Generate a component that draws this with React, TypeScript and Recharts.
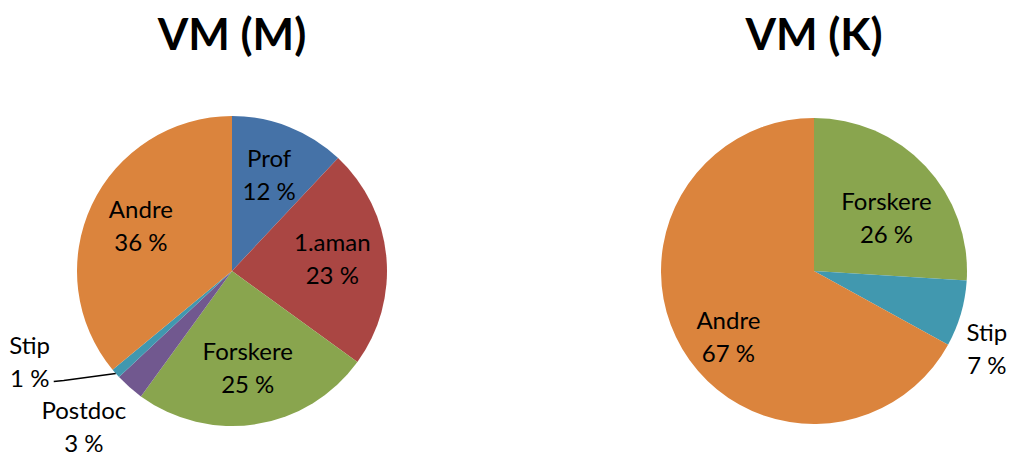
import React from 'react';
import { PieChart, Pie, Cell } from 'recharts';

const mNames = ['Prof', '1.aman', 'Forskere', 'Postdoc', 'Stip', 'Andre'];
const mValues = [12, 23, 25, 3, 1, 36];
const mColors = ['#4572A7', '#AA4643', '#89A54E', '#71588F', '#4198AF', '#DB843D'];

const kNames = ['Forskere', 'Stip', 'Andre'];
const kValues = [26, 7, 67];
const kColors = ['#89A54E', '#4198AF', '#DB843D'];

const mData = mNames.map((name, i) => ({ name, value: mValues[i] }));
const kData = kNames.map((name, i) => ({ name, value: kValues[i] }));

const W = 1012;
const H = 461;
const FONT = 'Lato, "Open Sans", sans-serif';
const RAD = Math.PI / 180;
const FS = 24;
const LH = 33;

// inside labels sit a bit lower on the second pie
const makeLabel = (insideShift: number) => (props: any) => {
    const { cx, cy, midAngle, outerRadius, name, value } = props;
    const dx = Math.cos(-midAngle * RAD);
    const dy = Math.sin(-midAngle * RAD);
    const pct = `${value} %`;

    if (value >= 10) {
        const r = outerRadius * 0.65;
        const x = cx + r * dx;
        const y = cy + r * dy + insideShift;
        return (
            <text x={x} y={y} textAnchor="middle" fontFamily={FONT} fontSize={FS} fill="#000">
                <tspan x={x} dy={-LH / 2 + 6}>{name}</tspan>
                <tspan x={x} dy={LH}>{pct}</tspan>
            </text>
        );
    }

    if (value < 2) {
        // tiny slice: leader line out to the left
        const ex = cx + outerRadius * dx;
        const ey = cy + outerRadius * dy;
        const lx = ex - 62;
        const ly = ey + 8;
        const tx = lx - 24;
        return (
            <g>
                <polyline points={`${ex},${ey} ${lx + 10},${ly - 1} ${lx},${ly}`} fill="none" stroke="#000" strokeWidth={1.5} />
                <text x={tx} y={ly} textAnchor="middle" fontFamily={FONT} fontSize={FS} fill="#000">
                    <tspan x={tx} dy={-LH + 5}>{name}</tspan>
                    <tspan x={tx} dy={LH}>{pct}</tspan>
                </text>
            </g>
        );
    }

    // small slice: label just outside the rim
    const w = Math.max(name.length, pct.length) * FS * 0.48;
    const h = 72;
    const ax = cx + (outerRadius + 8) * dx;
    const ay = cy + (outerRadius + 8) * dy;
    const x = Math.min(ax + Math.sign(dx) * w / 2, W - w / 2 - 2);
    const y = ay + Math.sign(dy) * h / 2;
    return (
        <text x={x} y={y} textAnchor="middle" fontFamily={FONT} fontSize={FS} fill="#000">
            <tspan x={x} dy={-LH / 2 + 6}>{name}</tspan>
            <tspan x={x} dy={LH}>{pct}</tspan>
        </text>
    );
};

const titleStyle: React.CSSProperties = {
    position: 'absolute',
    top: 7,
    width: 300,
    textAlign: 'center',
    fontFamily: FONT,
    fontWeight: 'bold',
    fontSize: 44,
    color: '#000',
};

const App: React.FC = () => {
    return (
        <div style={{ position: 'fixed', left: 0, top: 0, width: W, height: H, background: '#fff' }}>
            <div style={{ ...titleStyle, left: 232 - 150 }}>VM (M)</div>
            <div style={{ ...titleStyle, left: 814 - 150 }}>VM (K)</div>
            <PieChart
                width={W}
                height={H}
                margin={{ top: 0, right: 0, bottom: 0, left: 0 }}
                style={{ position: 'absolute', left: 0, top: 0 }}
            >
                <Pie
                    data={mData}
                    dataKey="value"
                    nameKey="name"
                    cx={232}
                    cy={271}
                    outerRadius={155}
                    startAngle={90}
                    endAngle={-270}
                    stroke="none"
                    label={makeLabel(0)}
                    labelLine={false}
                    isAnimationActive={false}
                >
                    {mData.map((d, i) => (
                        <Cell key={d.name} fill={mColors[i]} />
                    ))}
                </Pie>
                <Pie
                    data={kData}
                    dataKey="value"
                    nameKey="name"
                    cx={814}
                    cy={271}
                    outerRadius={153}
                    startAngle={90}
                    endAngle={-270}
                    stroke="none"
                    label={makeLabel(18)}
                    labelLine={false}
                    isAnimationActive={false}
                >
                    {kData.map((d, i) => (
                        <Cell key={d.name} fill={kColors[i]} />
                    ))}
                </Pie>
            </PieChart>
        </div>
    );
};

export default App;
